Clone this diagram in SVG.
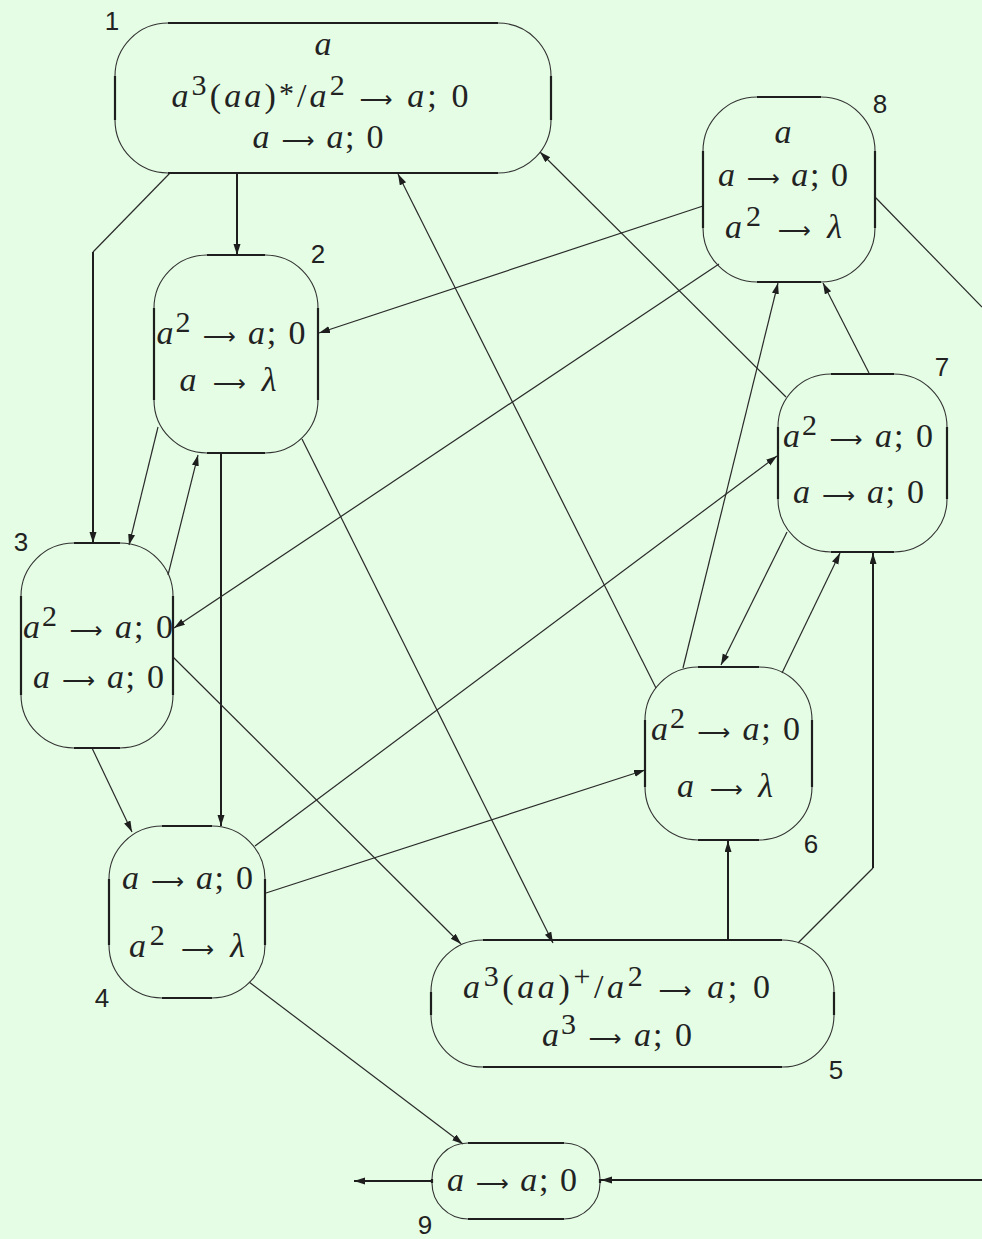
<svg xmlns="http://www.w3.org/2000/svg" width="982" height="1239" viewBox="0 0 982 1239">
<defs>
<style>
.box{fill:none;stroke:#333;stroke-width:1.1}
.edge{fill:none;stroke:#1e1e1e;stroke-width:2.2}
.m{font-family:"Liberation Serif",serif;font-size:34px;fill:#222;text-anchor:middle}
.i{font-style:italic}
.s{font-size:30px;font-style:normal}
.ar{font-family:"DejaVu Sans",sans-serif;font-size:23px;font-style:normal}
.lbl{font-family:"Liberation Sans",sans-serif;font-size:26px;fill:#222;text-anchor:middle}
.c{fill:none;stroke:#2a2a2a;stroke-width:1.2}
.ct{fill:none;stroke:#1e1e1e;stroke-width:2}
</style>
<marker id="ah" markerUnits="userSpaceOnUse" markerWidth="12" markerHeight="8" refX="11" refY="3.5" orient="auto"><path d="M0,0 L11,3.5 L0,7 z" fill="#1e1e1e"/></marker>
</defs>
<rect width="982" height="1239" fill="#e4fde4"/>

<g id="connectors">
<line class="ct" x1="237" y1="174" x2="237" y2="255" marker-end="url(#ah)"/>
<line class="c" x1="170" y1="173" x2="93" y2="252"/>
<line class="ct" x1="93" y1="252" x2="93" y2="543" marker-end="url(#ah)"/>
<line class="c" x1="158" y1="427" x2="129" y2="545" marker-end="url(#ah)"/>
<line class="c" x1="168" y1="575" x2="198" y2="455" marker-end="url(#ah)"/>
<line class="ct" x1="221" y1="453" x2="221" y2="826" marker-end="url(#ah)"/>
<line class="c" x1="302" y1="439" x2="553" y2="943" marker-end="url(#ah)"/>
<line class="c" x1="173" y1="657" x2="461" y2="944" marker-end="url(#ah)"/>
<line class="c" x1="92" y1="748" x2="132" y2="832" marker-end="url(#ah)"/>
<line class="c" x1="255" y1="846" x2="777" y2="456" marker-end="url(#ah)"/>
<line class="c" x1="266" y1="893" x2="645" y2="770" marker-end="url(#ah)"/>
<line class="c" x1="249" y1="982" x2="463" y2="1144" marker-end="url(#ah)"/>
<line class="ct" x1="728" y1="940" x2="728" y2="841" marker-end="url(#ah)"/>
<line class="c" x1="798" y1="943" x2="873" y2="868"/>
<line class="ct" x1="873" y1="868" x2="873" y2="553" marker-end="url(#ah)"/>
<line class="c" x1="656" y1="688" x2="398" y2="174" marker-end="url(#ah)"/>
<line class="c" x1="683" y1="668" x2="778" y2="283" marker-end="url(#ah)"/>
<line class="c" x1="782" y1="673" x2="840" y2="553" marker-end="url(#ah)"/>
<line class="c" x1="787" y1="532" x2="721" y2="665" marker-end="url(#ah)"/>
<line class="c" x1="786" y1="397" x2="540" y2="152" marker-end="url(#ah)"/>
<line class="c" x1="869" y1="373" x2="823" y2="283" marker-end="url(#ah)"/>
<line class="c" x1="703" y1="206" x2="319" y2="333" marker-end="url(#ah)"/>
<line class="c" x1="719" y1="264" x2="174" y2="628" marker-end="url(#ah)"/>
<line class="c" x1="875" y1="197" x2="982" y2="307"/>
<line class="ct" x1="982" y1="1180" x2="601" y2="1180" marker-end="url(#ah)"/>
<line class="ct" x1="432" y1="1181" x2="354" y2="1181" marker-end="url(#ah)"/>
</g>

<g id="node1">
<rect class="box" x="115" y="23" width="436" height="150" rx="53"/>
<path class="edge" d="M168,23H498M168,173H498M115,76V120M551,76V120"/>
<text class="m" x="323" y="55"><tspan class="i">a</tspan></text>
<text class="m" x="320" y="107" textLength="297" lengthAdjust="spacing"><tspan class="i">a</tspan><tspan class="s" dy="-12">3</tspan><tspan dy="12">(</tspan><tspan class="i">aa</tspan>)<tspan class="s" dy="-4">*</tspan><tspan dy="4">/</tspan><tspan class="i">a</tspan><tspan class="s" dy="-12">2</tspan><tspan dy="12"> </tspan><tspan class="ar">⟶</tspan><tspan class="i"> a</tspan>; 0</text>
<text class="m" x="318" y="148" textLength="131" lengthAdjust="spacing"><tspan class="i">a </tspan><tspan class="ar">⟶</tspan><tspan class="i"> a</tspan>; 0</text>
<text class="lbl" x="112" y="30">1</text>
</g>

<g id="node2">
<rect class="box" x="154" y="255" width="164" height="198" rx="53"/>
<path class="edge" d="M207,255H265M207,453H265M154,308V400M318,308V400"/>
<text class="m" x="231" y="344" textLength="149" lengthAdjust="spacing"><tspan class="i">a</tspan><tspan class="s" dy="-12">2</tspan><tspan dy="12"> </tspan><tspan class="ar">⟶</tspan><tspan class="i"> a</tspan>; 0</text>
<text class="m" x="228" y="391" textLength="97" lengthAdjust="spacing"><tspan class="i">a </tspan><tspan class="ar">⟶</tspan><tspan class="i"> λ</tspan></text>
<text class="lbl" x="318" y="263">2</text>
</g>

<g id="node3">
<rect class="box" x="21" y="543" width="152" height="205" rx="53"/>
<path class="edge" d="M74,543H120M74,748H120M21,596V695M173,596V695"/>
<text class="m" x="98" y="638" textLength="150" lengthAdjust="spacing"><tspan class="i">a</tspan><tspan class="s" dy="-12">2</tspan><tspan dy="12"> </tspan><tspan class="ar">⟶</tspan><tspan class="i"> a</tspan>; 0</text>
<text class="m" x="98.5" y="688" textLength="131" lengthAdjust="spacing"><tspan class="i">a </tspan><tspan class="ar">⟶</tspan><tspan class="i"> a</tspan>; 0</text>
<text class="lbl" x="21" y="551">3</text>
</g>

<g id="node4">
<rect class="box" x="109" y="826" width="156" height="172" rx="53"/>
<path class="edge" d="M162,826H212M162,998H212M109,879V945M265,879V945"/>
<text class="m" x="187.5" y="889" textLength="131" lengthAdjust="spacing"><tspan class="i">a </tspan><tspan class="ar">⟶</tspan><tspan class="i"> a</tspan>; 0</text>
<text class="m" x="187" y="957" textLength="116" lengthAdjust="spacing"><tspan class="i">a</tspan><tspan class="s" dy="-12">2</tspan><tspan dy="12"> </tspan><tspan class="ar">⟶</tspan><tspan class="i"> λ</tspan></text>
<text class="lbl" x="102" y="1007">4</text>
</g>

<g id="node5">
<rect class="box" x="431" y="940" width="403" height="127" rx="52"/>
<path class="edge" d="M483,940H782M483,1067H782M431,992V1015M834,992V1015"/>
<text class="m" x="616.5" y="998" textLength="307" lengthAdjust="spacing"><tspan class="i">a</tspan><tspan class="s" dy="-12">3</tspan><tspan dy="12">(</tspan><tspan class="i">aa</tspan>)<tspan class="s" dy="-12">+</tspan><tspan dy="12">/</tspan><tspan class="i">a</tspan><tspan class="s" dy="-12">2</tspan><tspan dy="12"> </tspan><tspan class="ar">⟶</tspan><tspan class="i"> a</tspan>; 0</text>
<text class="m" x="617" y="1046" textLength="150" lengthAdjust="spacing"><tspan class="i">a</tspan><tspan class="s" dy="-12">3</tspan><tspan dy="12"> </tspan><tspan class="ar">⟶</tspan><tspan class="i"> a</tspan>; 0</text>
<text class="lbl" x="836" y="1079">5</text>
</g>

<g id="node6">
<rect class="box" x="645" y="667" width="167" height="173" rx="53"/>
<path class="edge" d="M698,667H759M698,840H759M645,720V787M812,720V787"/>
<text class="m" x="725.5" y="740" textLength="149" lengthAdjust="spacing"><tspan class="i">a</tspan><tspan class="s" dy="-12">2</tspan><tspan dy="12"> </tspan><tspan class="ar">⟶</tspan><tspan class="i"> a</tspan>; 0</text>
<text class="m" x="725" y="797" textLength="96" lengthAdjust="spacing"><tspan class="i">a </tspan><tspan class="ar">⟶</tspan><tspan class="i"> λ</tspan></text>
<text class="lbl" x="811" y="853">6</text>
</g>

<g id="node7">
<rect class="box" x="778" y="374" width="169" height="178" rx="53"/>
<path class="edge" d="M831,374H894M831,552H894M778,427V499M947,427V499"/>
<text class="m" x="858" y="447" textLength="150" lengthAdjust="spacing"><tspan class="i">a</tspan><tspan class="s" dy="-12">2</tspan><tspan dy="12"> </tspan><tspan class="ar">⟶</tspan><tspan class="i"> a</tspan>; 0</text>
<text class="m" x="858.5" y="503" textLength="131" lengthAdjust="spacing"><tspan class="i">a </tspan><tspan class="ar">⟶</tspan><tspan class="i"> a</tspan>; 0</text>
<text class="lbl" x="942" y="376">7</text>
</g>

<g id="node8">
<rect class="box" x="703" y="97" width="172" height="185" rx="54"/>
<path class="edge" d="M757,97H821M757,282H821M703,151V228M875,151V228"/>
<text class="m" x="783" y="143"><tspan class="i">a</tspan></text>
<text class="m" x="783" y="186" textLength="130" lengthAdjust="spacing"><tspan class="i">a </tspan><tspan class="ar">⟶</tspan><tspan class="i"> a</tspan>; 0</text>
<text class="m" x="783.5" y="238" textLength="117" lengthAdjust="spacing"><tspan class="i">a</tspan><tspan class="s" dy="-12">2</tspan><tspan dy="12"> </tspan><tspan class="ar">⟶</tspan><tspan class="i"> λ</tspan></text>
<text class="lbl" x="880" y="113">8</text>
</g>

<g id="node9">
<rect class="box" x="432" y="1143" width="168" height="76" rx="36"/>
<path class="edge" d="M468,1143H564M468,1219H564M432,1179V1183M600,1179V1183"/>
<text class="m" x="512" y="1191" textLength="130" lengthAdjust="spacing"><tspan class="i">a </tspan><tspan class="ar">⟶</tspan><tspan class="i"> a</tspan>; 0</text>
<text class="lbl" x="425" y="1234">9</text>
</g>
</svg>
